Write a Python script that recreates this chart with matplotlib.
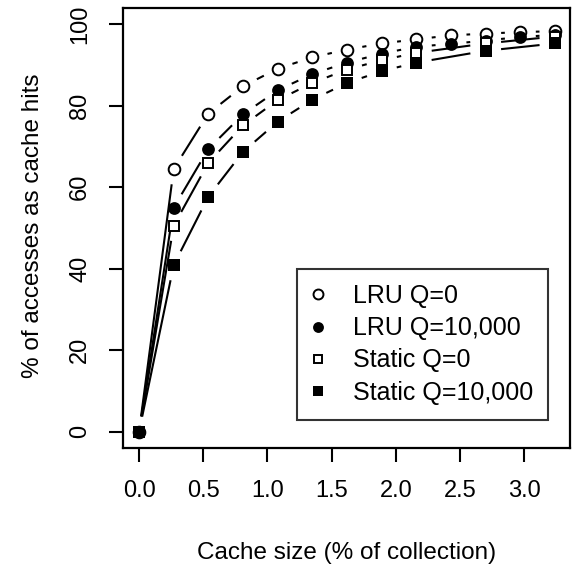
import numpy as np
import matplotlib
matplotlib.use("Agg")
import matplotlib.pyplot as plt

plt.rcParams['font.family'] = ['Liberation Sans', 'DejaVu Sans']

# cache sizes (% of collection)
cache_x = [0, 0.27, 0.54, 0.81, 1.08, 1.35, 1.62, 1.89, 2.16, 2.43, 2.70, 2.97, 3.24]
static_x = [0, 0.27, 0.54, 0.81, 1.08, 1.35, 1.62, 1.89, 2.16, 2.70, 3.24]

lru_q0 = [0, 64.5, 78.1, 84.8, 89.1, 91.9, 93.8, 95.3, 96.3, 97.3, 97.7, 98.1, 98.3]
lru_q10k = [0, 55.0, 69.4, 77.9, 83.8, 87.8, 90.6, 92.8, 94.5, 95.2, 96.0, 96.9, 97.4]
static_q0 = [0, 50.6, 66.0, 75.2, 81.4, 85.6, 88.9, 91.2, 93.0, 95.3, 97.0]
static_q10k = [0, 40.9, 57.7, 68.7, 76.1, 81.5, 85.6, 88.5, 90.6, 93.5, 95.3]

labels = ["LRU Q=0", "LRU Q=10,000", "Static Q=0", "Static Q=10,000"]
xticks = [0.0, 0.5, 1.0, 1.5, 2.0, 2.5, 3.0]
yticks = [0, 20, 40, 60, 80, 100]

W, H = 572, 568
fig = plt.figure(figsize=(W / 100, H / 100), dpi=100)
ax = fig.add_axes([123 / W, 1 - 448 / H, (570 - 123) / W, (448 - 8) / H])
ax.set_xlim(-0.125, 3.357)
ax.set_ylim(-4, 104)


def gap_line(xs, ys, gap=15.5, z=1):
    # R type="b": segments between points, cut short around each point
    pts = ax.transData.transform(np.column_stack([xs, ys]))
    inv = ax.transData.inverted()
    for p0, p1 in zip(pts[:-1], pts[1:]):
        d = p1 - p0
        L = np.hypot(d[0], d[1])
        if L <= 2 * gap:
            continue
        u = d / L
        a = inv.transform(p0 + u * gap)
        b = inv.transform(p1 - u * gap)
        ax.plot([a[0], b[0]], [a[1], b[1]], color="black", lw=1.5,
                solid_capstyle="butt", zorder=z)


series = [
    (cache_x, lru_q0, dict(marker="o", ms=8.4, mfc="white", mec="black", mew=1.4)),
    (cache_x, lru_q10k, dict(marker="o", ms=9.2, mfc="black", mec="black", mew=0)),
    (static_x, static_q0, dict(marker="s", ms=6.6, mfc="white", mec="black", mew=1.4)),
    (static_x, static_q10k, dict(marker="s", ms=8.4, mfc="black", mec="black", mew=0)),
]

handles = []
for i, (xs, ys, st) in enumerate(series):
    gap_line(xs, ys, z=2 + 2 * i)
    h, = ax.plot(xs, ys, linestyle="none", zorder=3 + 2 * i, label=labels[i], **st)
    handles.append(h)

ax.set_xticks(xticks)
ax.set_xticklabels(["%.1f" % v for v in xticks])
ax.set_yticks(yticks)
ax.set_yticklabels([str(v) for v in yticks], rotation=90, va="center")
ax.tick_params(direction="out", length=10, width=1.5, labelsize=17, pad=13, colors="black")
for s in ax.spines.values():
    s.set_linewidth(1.6)

fig.text(346.5 / W, 1 - 553 / H, "Cache size (% of collection)", fontsize=17.5,
         ha="center", va="center")
fig.text(33 / W, 1 - 226 / H, "% of accesses as cache hits", fontsize=17.5,
         ha="center", va="center", rotation=90)

leg = ax.legend(handles=handles, loc="upper right",
                bbox_to_anchor=(548 / W, 1 - 269 / H), bbox_transform=fig.transFigure,
                borderaxespad=0, fontsize=18, frameon=True, fancybox=False,
                borderpad=0.6, labelspacing=0.33, handlelength=0.5, handletextpad=1.15,
                markerscale=0.85)
leg.get_frame().set_edgecolor("black")
leg.get_frame().set_linewidth(1.5)
leg.set_zorder(20)

fig.savefig("out.png", dpi=100)
